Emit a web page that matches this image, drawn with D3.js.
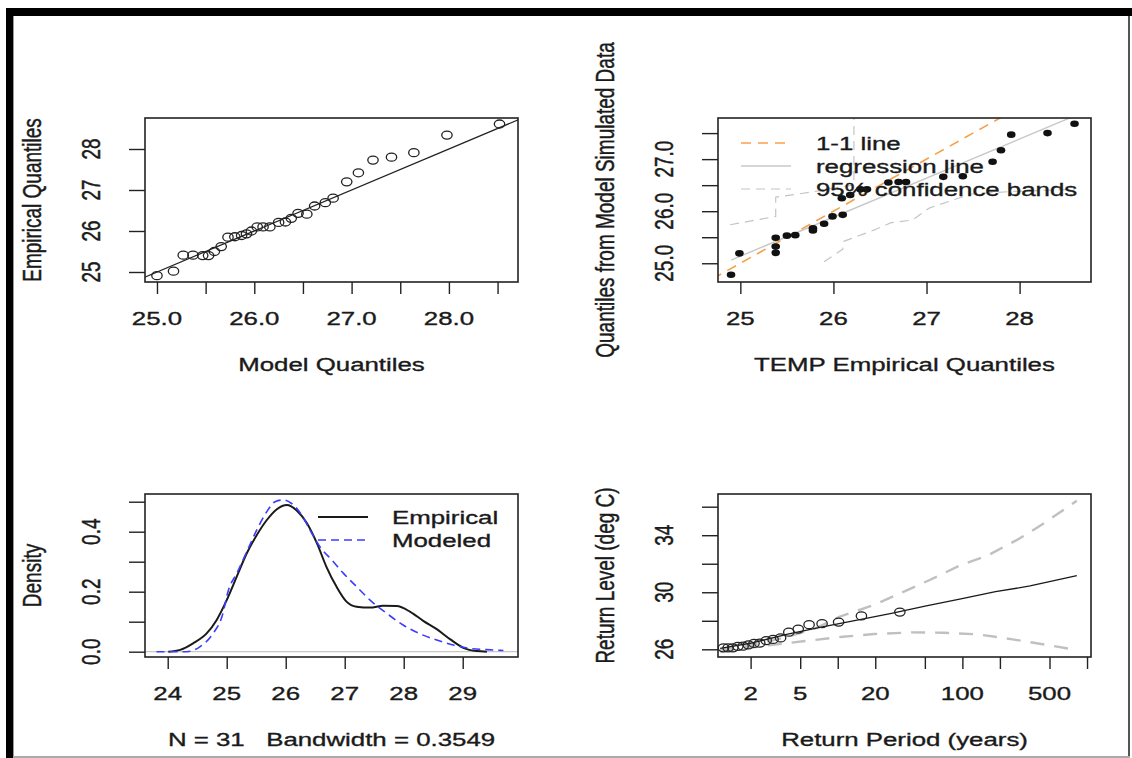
<!DOCTYPE html>
<html><head><meta charset="utf-8">
<script src="https://cdn.jsdelivr.net/npm/d3@7"></script>
<style>
html,body{margin:0;padding:0;background:#fff;}
svg{display:block;font-family:"Liberation Sans",Arial,sans-serif;}
</style></head>
<body><svg id="c" width="1132" height="758"></svg>
<script>
// ---------- DATA ----------
// Panel 1: QQ plot (model quantiles vs empirical quantiles)
const qqModel = [25.00,25.17,25.27,25.37,25.47,25.53,25.59,25.66,25.73,25.80,25.87,25.92,25.97,26.03,26.09,26.16,26.25,26.32,26.38,26.45,26.54,26.62,26.73,26.81,26.95,27.07,27.22,27.41,27.64,27.98,28.52];
const qqEmpirical = [24.91,25.02,25.41,25.41,25.40,25.40,25.50,25.62,25.85,25.86,25.89,25.93,26.00,26.10,26.10,26.10,26.21,26.22,26.31,26.43,26.41,26.61,26.69,26.80,27.20,27.42,27.73,27.80,27.91,28.34,28.61];
const p1XTicks = [25.0,25.5,26.0,26.5,27.0,27.5,28.0,28.5];
const p1XLabels = ["25.0","","26.0","","27.0","","28.0",""];
const p1YTicks = [25,26,27,28];
const p1YLabels = ["25","26","27","28"];

// Panel 2: QQ plot of simulated data
const simEmpirical = [24.90,24.99,25.38,25.38,25.38,25.50,25.59,25.78,25.78,25.90,25.99,26.10,26.09,26.18,26.29,26.36,26.59,26.70,26.78,27.18,27.39,27.71,27.80,27.91,28.30,28.59];
const simModel     = [24.78,25.19,25.49,25.32,25.20,25.53,25.54,25.67,25.63,25.76,25.90,25.93,26.25,26.31,26.42,26.42,26.55,26.56,26.56,26.66,26.67,26.95,27.17,27.47,27.50,27.68];
const regX = [24.90,28.59];
const regY = [25.06,27.83];
const oneX = [24.70,28.00];
const oneY = [24.70,28.00];
const bandUpX = [24.89,25.38,25.38,25.62,25.88,26.05,26.22,26.22];
const bandUpY = [25.74,25.90,26.27,26.33,26.40,26.46,26.50,28.20];
const bandLoX = [25.90,26.10,26.11,26.44,26.62,26.85,27.03,27.31,27.48,27.93,28.59];
const bandLoY = [25.03,25.27,25.42,25.64,25.78,25.83,26.06,26.23,26.33,26.38,26.42];
const p2XTicks = [25,26,27,28];
const p2XLabels = ["25","26","27","28"];
const p2YTicks = [25.0,25.5,26.0,26.5,27.0,27.5];
const p2YLabels = ["25.0","","26.0","","27.0",""];
const p2Legend = ["1-1 line","regression line","95% confidence bands"];

// Panel 3: density
const densEmpX = [24.01,24.21,24.43,24.66,24.83,25.00,25.17,25.34,25.51,25.68,25.85,26.02,26.19,26.36,26.53,26.69,26.86,27.03,27.20,27.43,27.65,27.88,28.11,28.33,28.56,28.79,29.01,29.24,29.41];
const densEmpY = [0.000,0.006,0.028,0.061,0.106,0.172,0.250,0.328,0.389,0.439,0.475,0.489,0.470,0.428,0.361,0.283,0.217,0.167,0.150,0.147,0.153,0.152,0.133,0.103,0.075,0.041,0.013,0.002,0.000];
const densModX = [23.81,24.32,24.55,24.77,24.92,25.03,25.17,25.34,25.51,25.68,25.82,25.96,26.10,26.27,26.41,26.58,26.78,26.98,27.20,27.43,27.71,27.99,28.28,28.56,28.84,29.12,29.41,29.69];
const densModY = [0.000,0.000,0.017,0.061,0.117,0.206,0.261,0.333,0.406,0.467,0.500,0.506,0.494,0.456,0.406,0.350,0.306,0.261,0.217,0.172,0.128,0.089,0.059,0.039,0.022,0.011,0.007,0.004];
const p3XTicks = [24,25,26,27,28,29];
const p3XLabels = ["24","25","26","27","28","29"];
const p3YTicks = [0.0,0.1,0.2,0.3,0.4,0.5];
const p3YLabels = ["0.0","","0.2","","0.4",""];
const p3Legend = ["Empirical","Modeled"];

// Panel 4: return level plot
const rlPeriods = [1.14,2.09,3.97,7.54,14.3,27.0,51.3,97.3,184.5,349,828];
const rlLevels  = [26.07,26.46,27.07,27.58,28.05,28.52,29.04,29.53,30.04,30.44,31.16];
const ciUpPeriods = [1.14,2.09,3.97,6.63,10.4,19.6,54.7,97.3,162,289,452,828];
const ciUpLevels  = [25.95,26.30,26.88,27.47,28.29,29.11,30.86,31.91,32.61,33.78,34.84,36.42];
const ciLoPeriods = [1.14,2.88,5.47,11.0,19.6,39.6,70.5,133,253,480,828];
const ciLoLevels  = [25.83,26.30,26.58,26.88,27.07,27.19,27.16,27.05,26.70,26.30,25.95];
const rlPtPeriods = [1.21,1.32,1.44,1.58,1.74,1.92,2.13,2.37,2.67,3.03,3.48,4.05,4.82,5.89,7.49,10.16,15.49,31.5];
const rlPtLevels  = [26.10,26.10,26.10,26.21,26.22,26.31,26.41,26.43,26.61,26.69,26.80,27.20,27.42,27.73,27.80,27.91,28.34,28.61];
const p4XTicks = [2,5,10,20,50,100,200,500,1000];
const p4XLabels = ["2","5","","20","","100","","500",""];
const p4YTicks = [26,28,30,32,34,36];
const p4YLabels = ["26","","30","","34",""];

const axisTitles = {
  p1x:"Model Quantiles", p1y:"Empirical Quantiles",
  p2x:"TEMP Empirical Quantiles", p2y:"Quantiles from Model Simulated Data",
  p3x:"N = 31   Bandwidth = 0.3549", p3y:"Density",
  p4x:"Return Period (years)", p4y:"Return Level (deg C)"
};

// ---------- DRAW ----------
const SX = 1.36, FS = 19, TXT = "#1a1a1a";
const svg = d3.select("#c");

// frame
svg.append("rect").attr("x",6).attr("y",8).attr("width",1126).attr("height",8).attr("fill","#000");
svg.append("rect").attr("x",6).attr("y",8).attr("width",7).attr("height",750).attr("fill","#000");
svg.append("rect").attr("x",13).attr("y",16).attr("width",1).attr("height",742).attr("fill","#999");
svg.append("rect").attr("x",1128).attr("y",16).attr("width",2).attr("height",742).attr("fill","#555");
svg.append("rect").attr("x",13).attr("y",756).attr("width",1117).attr("height",2).attr("fill","#aaa");

function label(g, x, y, s, rot=0, anchor="middle") {
  return g.append("text")
    .attr("transform", `translate(${x},${y}) scale(${SX},1) rotate(${rot})`)
    .attr("text-anchor", anchor).attr("font-size", FS).attr("fill", TXT)
    .attr("stroke", TXT).attr("stroke-width", 0.35)
    .style("white-space","pre").text(s);
}

const boxes = {
  p1:{l:145,r:518,t:118,b:282}, p2:{l:718,r:1091,t:118,b:282},
  p3:{l:145,r:518,t:494,b:657}, p4:{l:718,r:1091,t:494,b:657}
};

function frame(id, x, y, xt, xl, yt, yl, xtitle, ytitle) {
  const B = boxes[id];
  const g = svg.append("g");
  const clipId = "clip-"+id;
  svg.append("clipPath").attr("id",clipId).append("rect")
    .attr("x",B.l).attr("y",B.t).attr("width",B.r-B.l).attr("height",B.b-B.t);
  const ax = g.append("g").attr("transform",`translate(0,${B.b})`)
    .call(d3.axisBottom(x).tickValues(xt).tickSize(12).tickFormat(""));
  const ay = g.append("g").attr("transform",`translate(${B.l},0)`)
    .call(d3.axisLeft(y).tickValues(yt).tickSize(16).tickFormat(""));
  [ax,ay].forEach(a=>{a.select(".domain").remove();a.selectAll("line").attr("stroke","#222").attr("stroke-width",1.4);});
  xt.forEach((v,i)=>{ if(xl[i]) label(g, x(v), B.b+43, xl[i]); });
  yt.forEach((v,i)=>{ if(yl[i]) label(g, B.l-45, y(v), yl[i], -90); });
  label(g, (B.l+B.r)/2, B.b+89, xtitle);
  label(g, B.l-104, (B.t+B.b)/2, ytitle, -90);
  const plot = svg.append("g").attr("clip-path",`url(#${clipId})`);
  return {g, plot, B};
}
function box(B){
  svg.append("rect").attr("x",B.l).attr("y",B.t).attr("width",B.r-B.l).attr("height",B.b-B.t)
    .attr("fill","none").attr("stroke","#222").attr("stroke-width",1.6);
}
function pathXY(sel, xs, ys, x, y, stroke, w, dash, curve) {
  const pts = xs.map((v,i)=>[x(v), y(ys[i])]);
  const line = curve ? d3.line().curve(curve) : d3.line();
  const p = sel.append("path").attr("d", line(pts)).attr("fill","none")
    .attr("stroke",stroke).attr("stroke-width",w).attr("stroke-linejoin","round");
  if (dash) p.attr("stroke-dasharray",dash);
  return p;
}

// Panel 1
{
  const B = boxes.p1;
  const x = d3.scaleLinear().domain([24.877,28.71]).range([B.l,B.r]);
  const y = d3.scaleLinear().domain([24.756,28.756]).range([B.b,B.t]);
  const {plot} = frame("p1", x, y, p1XTicks, p1XLabels, p1YTicks, p1YLabels, axisTitles.p1x, axisTitles.p1y);
  pathXY(plot, [24.8,28.8],[24.8,28.8], x, y, "#222", 1.2);
  plot.selectAll("ellipse").data(qqModel).join("ellipse")
    .attr("cx",d=>x(d)).attr("cy",(d,i)=>y(qqEmpirical[i])).attr("rx",5.2).attr("ry",4)
    .attr("fill","none").attr("stroke","#222").attr("stroke-width",1.3);
  box(B);
}
// Panel 2
{
  const B = boxes.p2;
  const x = d3.scaleLinear().domain([24.760,28.767]).range([B.l,B.r]);
  const y = d3.scaleLinear().domain([24.64,27.79]).range([B.b,B.t]);
  const {g, plot} = frame("p2", x, y, p2XTicks, p2XLabels, p2YTicks, p2YLabels, axisTitles.p2x, axisTitles.p2y);
  pathXY(plot, bandUpX, bandUpY, x, y, "#c4c4c4", 1.2, "9,6");
  pathXY(plot, bandLoX, bandLoY, x, y, "#c4c4c4", 1.2, "9,6");
  pathXY(plot, regX, regY, x, y, "#c8c8c8", 1.4);
  pathXY(plot, oneX, oneY, x, y, "#f7a04c", 1.6, "10,7");
  plot.selectAll("ellipse").data(simEmpirical).join("ellipse")
    .attr("cx",d=>x(d)).attr("cy",(d,i)=>y(simModel[i])).attr("rx",4.3).attr("ry",3.3)
    .attr("fill","#111");
  const lg = svg.append("g");
  const styles = [["#f7a04c","10,7",1.6],["#c8c8c8",null,1.4],["#c4c4c4","9,6",1.2]];
  p2Legend.forEach((s,i)=>{
    const yy = 143 + i*23;
    const l = lg.append("line").attr("x1",741).attr("x2",791).attr("y1",yy).attr("y2",yy)
      .attr("stroke",styles[i][0]).attr("stroke-width",styles[i][2]);
    if (styles[i][1]) l.attr("stroke-dasharray",styles[i][1]);
    label(lg, 816, yy+7, s, 0, "start");
  });
  box(B);
}
// Panel 3
{
  const B = boxes.p3;
  const x = d3.scaleLinear().domain([23.615,29.937]).range([B.l,B.r]);
  const y = d3.scaleLinear().domain([-0.0177,0.5257]).range([B.b,B.t]);
  const {plot} = frame("p3", x, y, p3XTicks, p3XLabels, p3YTicks, p3YLabels, axisTitles.p3x, axisTitles.p3y);
  plot.append("line").attr("x1",B.l).attr("x2",B.r).attr("y1",y(0)).attr("y2",y(0)).attr("stroke","#c8c8c8").attr("stroke-width",1.2);
  pathXY(plot, densEmpX, densEmpY, x, y, "#1a1a1a", 2.0, null, d3.curveMonotoneX);
  pathXY(plot, densModX, densModY, x, y, "#3c3cff", 1.6, "8,5", d3.curveMonotoneX);
  const lg = svg.append("g");
  lg.append("line").attr("x1",318).attr("x2",368).attr("y1",517).attr("y2",517).attr("stroke","#1a1a1a").attr("stroke-width",2);
  lg.append("line").attr("x1",318).attr("x2",368).attr("y1",540).attr("y2",540).attr("stroke","#3c3cff").attr("stroke-width",1.6).attr("stroke-dasharray","8,5");
  label(lg, 392, 524, p3Legend[0], 0, "start");
  label(lg, 392, 547, p3Legend[1], 0, "start");
  box(B);
}
// Panel 4
{
  const B = boxes.p4;
  const x = d3.scaleLog().domain([1.095,1076]).range([B.l,B.r]);
  const y = d3.scaleLinear().domain([25.46,36.89]).range([B.b,B.t]);
  const {plot} = frame("p4", x, y, p4XTicks, p4XLabels, p4YTicks, p4YLabels, axisTitles.p4x, axisTitles.p4y);
  pathXY(plot, ciUpPeriods, ciUpLevels, x, y, "#c0c0c0", 2.4, "14,10");
  pathXY(plot, ciLoPeriods, ciLoLevels, x, y, "#c0c0c0", 2.4, "14,10");
  pathXY(plot, rlPeriods, rlLevels, x, y, "#1a1a1a", 1.3);
  plot.selectAll("ellipse").data(rlPtPeriods).join("ellipse")
    .attr("cx",d=>x(d)).attr("cy",(d,i)=>y(rlPtLevels[i])).attr("rx",5.2).attr("ry",4)
    .attr("fill","none").attr("stroke","#222").attr("stroke-width",1.3);
  box(B);
}
</script></body></html>
